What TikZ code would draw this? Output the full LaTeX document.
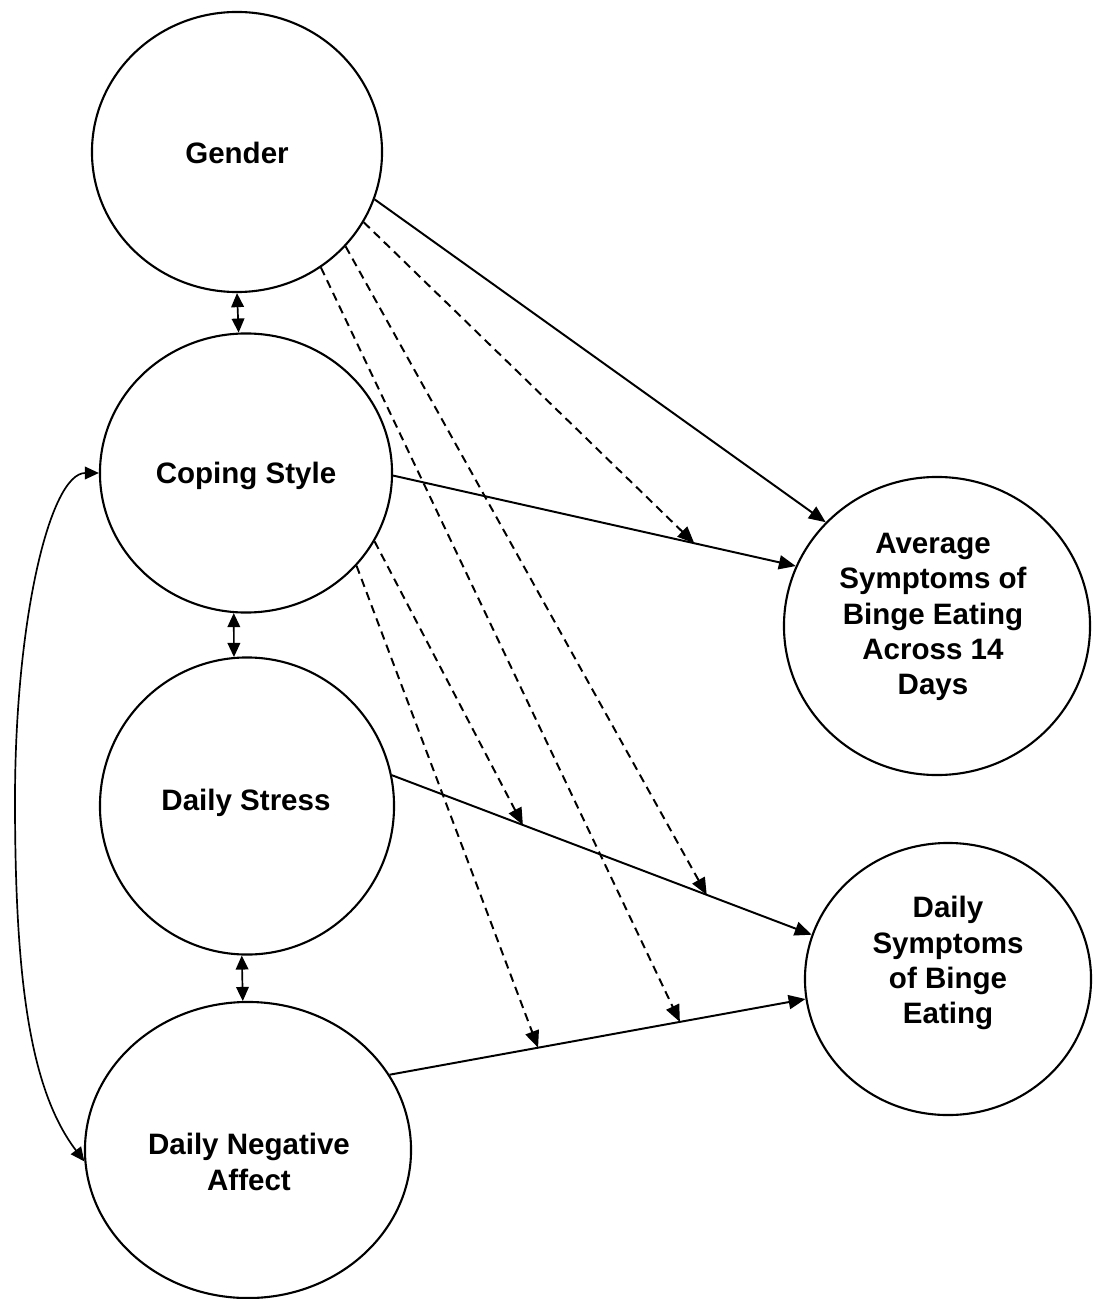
\documentclass[tikz,border=0pt]{standalone}
\usepackage{fontspec}
\setmainfont{Liberation Sans}
\usetikzlibrary{shapes.geometric,arrows.meta}

\begin{document}
\begin{tikzpicture}[x=0.025cm,y=-0.025cm,
    var/.style 2 args={draw,ellipse,line width=1.5pt,inner sep=0pt,minimum width=#1,minimum height=#2},
    lbl/.style={align=center,font=\fontsize{21}{25}\selectfont\bfseries},
    effect/.style={line width=1.4pt,-{Triangle[length=12pt,width=10pt]}},
    mod/.style={effect,dash pattern=on 6pt off 4pt},
    cov/.style={line width=1.2pt,{Triangle[length=10pt,width=9pt]}-{Triangle[length=10pt,width=9pt]}}]
    \useasboundingbox (0,0) rectangle (1092,1299);
    % variables
    \node[var={7.25cm}{7cm}] (gender) at (237,152) {};
    \node[var={7.3cm}{6.975cm}] (coping) at (246,473) {};
    \node[var={7.35cm}{7.425cm}] (stress) at (247,806) {};
    \node[var={8.15cm}{7.4cm}] (negaff) at (248,1150) {};
    \node[var={7.65cm}{7.45cm}] (avg) at (937,626) {};
    \node[var={7.15cm}{6.8cm}] (dsym) at (948,979) {};
    \node[lbl] (gendertxt) at (237,153) {Gender};
    \node[lbl] (copingtxt) at (246,476) {Coping Style};
    \node[lbl] (stresstxt) at (246,803) {Daily Stress};
    \node[lbl] (negafftxt) at (249,1162) {Daily Negative\\Affect};
    \node[lbl] (avgtxt) at (933,617) {Average\\Symptoms of\\Binge Eating\\Across 14\\Days};
    \node[lbl] (dsymtxt) at (948,963) {Daily\\Symptoms\\of Binge\\Eating};
    % covariances
    \draw[cov] (gender.south) -- (coping.93);
    \draw[cov] (coping.-95) -- (stress.95);
    \draw[cov] (stress.-92) -- (negaff.92);
    \draw[cov] (coping.west) .. controls (50,473) and (15,620) .. (15,800)
        .. controls (15,980) and (30,1090) .. (negaff.184);
    % direct effects
    \draw[effect] (gender.-19) -- (avg.137.6);
    \draw[effect] (coping.-1) -- coordinate[pos=0.748] (m1) (avg.157.5);
    \draw[effect] (stress.12.4) -- coordinate[pos=0.312] (m2) coordinate[pos=0.75] (m3) (dsym.162);
    \draw[effect] (negaff.28.7) -- coordinate[pos=0.357] (m4) coordinate[pos=0.698] (m5) (dsym.-172);
    % moderation
    \draw[mod] (gender.-29) -- (m1);
    \draw[mod] (gender.-41) -- (m3);
    \draw[mod] (gender.-54) -- (m5);
    \draw[mod] (coping.-28) -- (m2);
    \draw[mod] (coping.-40) -- (m4);
\end{tikzpicture}
\end{document}
